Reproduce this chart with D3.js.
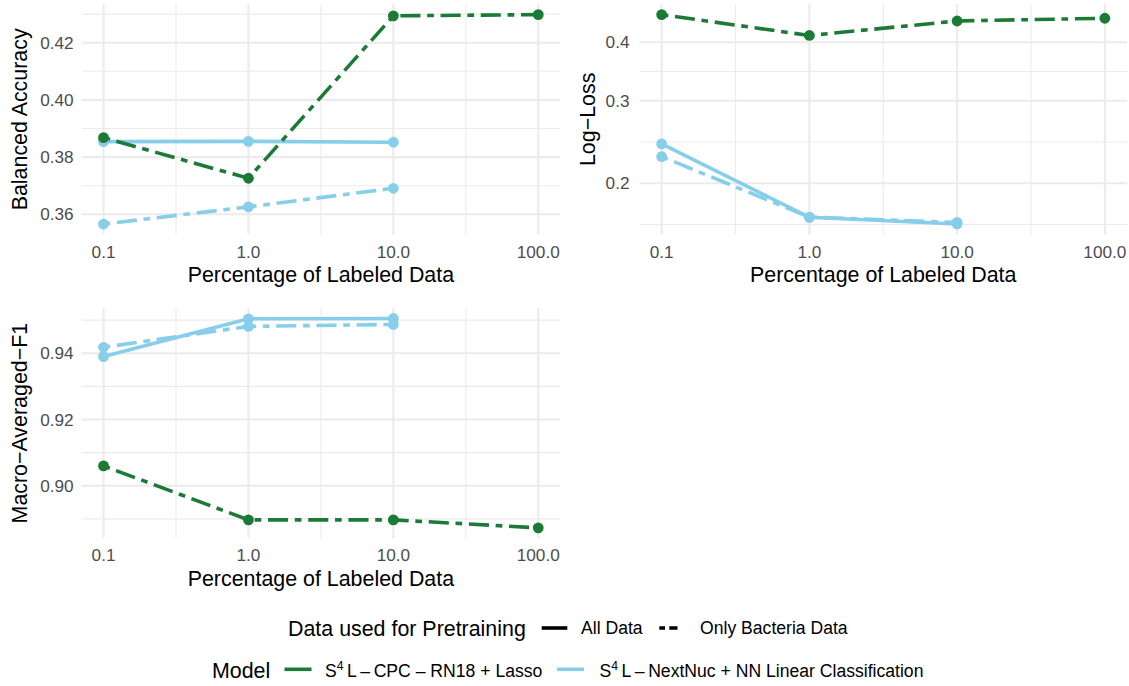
<!DOCTYPE html>
<html>
<head>
<meta charset="utf-8">
<script src="https://cdn.jsdelivr.net/npm/d3@7"></script>
<style>
  body { margin: 0; background: #fff; }
  text { font-family: "Liberation Sans", Arial, Helvetica, sans-serif; }
</style>
</head>
<body>
<svg id="chart" width="1129" height="686"></svg>
<script>
// Percentage of labeled data used for fine-tuning (x axis, log scale)
const percentLabeled = [0.1, 1, 10, 100];
const xTickLabels = ["0.1", "1.0", "10.0", "100.0"];

// Balanced accuracy
const balAccCpcBacteria = [0.3868, 0.3726, 0.4294, 0.4298];
const balAccNextNucAll = [0.3854, 0.3855, 0.3852];
const balAccNextNucBacteria = [0.3566, 0.3626, 0.3691];
const balAccTicks = [0.36, 0.38, 0.40, 0.42];

// Log-loss (log scale)
const logLossCpcBacteria = [0.458, 0.4135, 0.444, 0.450];
const logLossNextNucAll = [0.2427, 0.1692, 0.1637];
const logLossNextNucBacteria = [0.2280, 0.1694, 0.1650];
const logLossTicks = [0.2, 0.3, 0.4];

// Macro-averaged F1
const f1CpcBacteria = [0.9060, 0.8897, 0.8897, 0.8873];
const f1NextNucAll = [0.9390, 0.9504, 0.9505];
const f1NextNucBacteria = [0.9418, 0.9481, 0.9487];
const f1Ticks = [0.90, 0.92, 0.94];

// Legend entries
const pretrainLabels = ["All Data", "Only Bacteria Data"];
const modelNames = ["CPC – RN18 + Lasso", "NextNuc + NN Linear Classification"];

const GREEN = "#1b7a36";
const BLUE = "#87ceeb";
const DASH = "6.7,6.7,20.1,6.7";      // two-dash pattern
const KEY_DASH = "5.7,4.3,8.3,30";    // same pattern as it shows in the short legend key
const GRID = "#ebebeb";

const svg = d3.select("#chart");
svg.append("rect").attr("width", 1129).attr("height", 686).attr("fill", "#fff");

// 5% expansion of a range in transformed space
function expand(lo, hi, f = 0.05) {
  const d = (hi - lo) * f;
  return [lo - d, hi + d];
}

// Minor breaks at midpoints between majors (extended by one step either side)
function minorBreaks(majors, tDomain, tf, inv) {
  const t = majors.map(tf);
  const step = t[1] - t[0];
  const ext = [t[0] - step, ...t, t[t.length - 1] + step];
  const mids = [];
  for (let i = 0; i < ext.length - 1; i++) mids.push((ext[i] + ext[i + 1]) / 2);
  return mids.filter(m => m >= tDomain[0] && m <= tDomain[1]).map(inv);
}

const lg = Math.log10;
const pw = v => Math.pow(10, v);

function drawPanel(p) {
  const g = svg.append("g");
  const xT = expand(lg(percentLabeled[0]), lg(percentLabeled[percentLabeled.length - 1]));
  const x = d3.scaleLog().domain(xT.map(pw)).range([p.left, p.right]);

  const allVals = p.series.flatMap(s => s.values);
  const [mn, mx] = d3.extent(allVals);
  let y, yT, tf, inv;
  if (p.logY) {
    yT = expand(lg(mn), lg(mx));
    y = d3.scaleLog().domain(yT.map(pw)).range([p.bottom, p.top]);
    tf = lg; inv = pw;
  } else {
    yT = expand(mn, mx);
    y = d3.scaleLinear().domain(yT).range([p.bottom, p.top]);
    tf = v => v; inv = v => v;
  }

  // grid
  const xMinor = minorBreaks(percentLabeled, xT, lg, pw);
  const yMinor = minorBreaks(p.ticks, yT, tf, inv);
  g.selectAll(".ymin").data(yMinor).join("line")
    .attr("x1", p.left).attr("x2", p.right)
    .attr("y1", d => y(d)).attr("y2", d => y(d))
    .attr("stroke", GRID).attr("stroke-width", 1.1);
  g.selectAll(".xmin").data(xMinor).join("line")
    .attr("y1", p.top).attr("y2", p.bottom)
    .attr("x1", d => x(d)).attr("x2", d => x(d))
    .attr("stroke", GRID).attr("stroke-width", 1.1);
  g.selectAll(".ymaj").data(p.ticks).join("line")
    .attr("x1", p.left).attr("x2", p.right)
    .attr("y1", d => y(d)).attr("y2", d => y(d))
    .attr("stroke", GRID).attr("stroke-width", 2.1);
  g.selectAll(".xmaj").data(percentLabeled).join("line")
    .attr("y1", p.top).attr("y2", p.bottom)
    .attr("x1", d => x(d)).attr("x2", d => x(d))
    .attr("stroke", GRID).attr("stroke-width", 2.1);

  // tick labels
  g.selectAll(".xlab").data(percentLabeled).join("text")
    .attr("x", d => x(d)).attr("y", p.bottom + 23)
    .attr("text-anchor", "middle").attr("font-size", 17.2).attr("fill", "#4d4d4d")
    .text((d, i) => xTickLabels[i]);
  g.selectAll(".ylab").data(p.ticks).join("text")
    .attr("x", p.left - p.tickGap).attr("y", d => y(d) + 6.1)
    .attr("text-anchor", "end").attr("font-size", 17.2).attr("fill", "#4d4d4d")
    .text(d => d3.format(p.fmt)(d));

  // axis titles
  g.append("text")
    .attr("x", (p.left + p.right) / 2).attr("y", p.bottom + 47.2)
    .attr("text-anchor", "middle").attr("font-size", 21.4).attr("fill", "#000")
    .text("Percentage of Labeled Data");
  g.append("text")
    .attr("transform", `translate(${p.yTitleX},${(p.top + p.bottom) / 2}) rotate(-90)`)
    .attr("text-anchor", "middle").attr("font-size", 21.4).attr("fill", "#000")
    .text(p.yTitle);

  // lines then points
  const line = d3.line().x(d => x(d[0])).y(d => y(d[1]));
  p.series.forEach(s => {
    const pts = s.values.map((v, i) => [percentLabeled[i], v]);
    g.append("path").datum(pts).attr("d", line)
      .attr("fill", "none").attr("stroke", s.color).attr("stroke-width", 3.6)
      .attr("stroke-dasharray", s.dashed ? DASH : null);
  });
  p.series.forEach(s => {
    const pts = s.values.map((v, i) => [percentLabeled[i], v]);
    g.selectAll(null).data(pts).join("circle")
      .attr("cx", d => x(d[0])).attr("cy", d => y(d[1])).attr("r", 5.4)
      .attr("fill", s.color);
  });
}

const seriesOf = (all, bact, cpc) => [
  { values: all, color: BLUE, dashed: false },
  { values: bact, color: BLUE, dashed: true },
  { values: cpc, color: GREEN, dashed: true }
];

drawPanel({
  left: 81.8, right: 560, top: 4.2, bottom: 234.5, logY: false,
  ticks: balAccTicks, fmt: ".2f", tickGap: 8.2, yTitleX: 27.2,
  yTitle: "Balanced Accuracy",
  series: seriesOf(balAccNextNucAll, balAccNextNucBacteria, balAccCpcBacteria)
});
drawPanel({
  left: 639.5, right: 1127, top: 4.2, bottom: 234.5, logY: true,
  ticks: logLossTicks, fmt: ".1f", tickGap: 10, yTitleX: 595.2,
  yTitle: "Log\u2212Loss",
  series: seriesOf(logLossNextNucAll, logLossNextNucBacteria, logLossCpcBacteria)
});
drawPanel({
  left: 81.8, right: 560, top: 308, bottom: 538.3, logY: false,
  ticks: f1Ticks, fmt: ".2f", tickGap: 8.2, yTitleX: 27.4,
  yTitle: "Macro\u2212Averaged\u2212F1",
  series: seriesOf(f1NextNucAll, f1NextNucBacteria, f1CpcBacteria)
});

// ---- legends ----
const leg = svg.append("g");
// linetype legend
leg.append("text").attr("x", 288).attr("y", 636).attr("font-size", 21.4)
  .text("Data used for Pretraining");
const ltKeys = [
  { x: 541.7, w: 25.6, dash: null, labelX: 581, label: pretrainLabels[0] },
  { x: 659.3, w: 18.2, dash: KEY_DASH, labelX: 700, label: pretrainLabels[1] }
];
ltKeys.forEach(k => {
  leg.append("line").attr("x1", k.x).attr("x2", k.x + k.w).attr("y1", 628).attr("y2", 628)
    .attr("stroke", "#000").attr("stroke-width", 3.6)
    .attr("stroke-dasharray", k.dash);
  leg.append("text").attr("x", k.labelX).attr("y", 634.4).attr("font-size", 17.6)
    .text(k.label);
});

// model legend
leg.append("text").attr("x", 212).attr("y", 677.5).attr("font-size", 21.4).text("Model");
const mKeys = [
  { x: 284.5, color: GREEN, labelX: 325, name: modelNames[0] },
  { x: 557, color: BLUE, labelX: 599.5, name: modelNames[1] }
];
mKeys.forEach(k => {
  leg.append("line").attr("x1", k.x).attr("x2", k.x + 27).attr("y1", 669.3).attr("y2", 669.3)
    .attr("stroke", k.color).attr("stroke-width", 3.6);
  const t = leg.append("text").attr("x", k.labelX).attr("y", 677).attr("font-size", 17.6);
  t.append("tspan").text("S");
  t.append("tspan").attr("font-size", 12.2).attr("dy", -7).text("4");
  t.append("tspan").attr("dy", 7).text("\u2009L\u2009\u2013\u2009" + k.name);
});
</script>
</body>
</html>
